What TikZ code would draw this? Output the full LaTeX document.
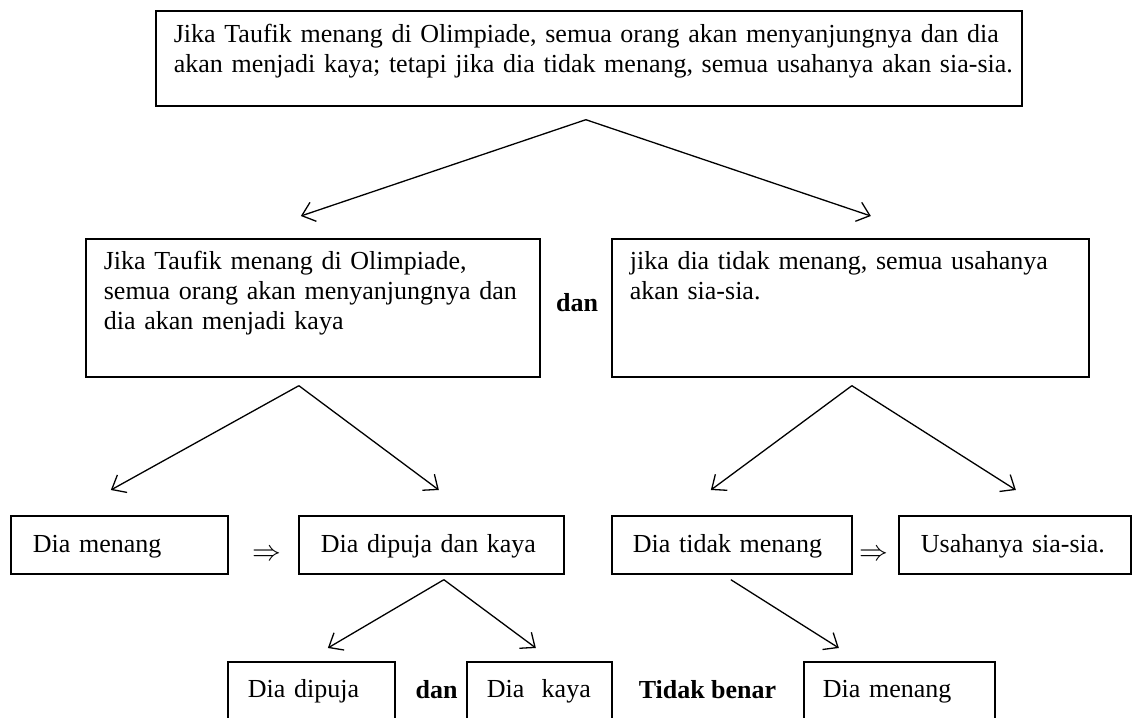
\documentclass[tikz,border=0pt]{standalone}
\usepackage{fontspec}
\setmainfont{Liberation Serif}
\usetikzlibrary{arrows.meta}

\tikzset{
  kotak/.style={draw, line width=0.85pt, anchor=north west, align=left,
    inner ysep=0pt, font=\fontsize{13}{15}\selectfont},
  panah/.style={line width=0.65pt, -{Straight Barb[length=6pt,width=10pt]}},
  tebal/.style={anchor=base, font=\fontsize{13}{15}\selectfont\bfseries},
  tanda/.style={anchor=base, font=\fontsize{14.4}{16}\selectfont},
}

\begin{document}
\begin{tikzpicture}[x=0.5pt, y=-0.5pt]
  \useasboundingbox (0,0) rectangle (1133,717);
  \clip (0,0) rectangle (1133,717);

  % pernyataan awal
  \node[kotak, text width=415pt, inner xsep=9pt, text height=16pt, text depth=31.5pt] (atas) at (155,10)
    {\mbox{Jika Taufik menang di Olimpiade, semua orang akan menyanjungnya dan dia}\\
     \mbox{akan menjadi kaya; tetapi jika dia tidak menang, semua usahanya akan sia-sia.}};

  % dua bagian
  \node[kotak, text width=209pt, inner xsep=9pt, text height=15.5pt, text depth=53.5pt] (kiri) at (85,238)
    {\mbox{Jika Taufik menang di Olimpiade,}\\ \mbox{semua orang akan menyanjungnya dan}\\ \mbox{dia akan menjadi kaya}};
  \node[tebal] (dan1) at (577,311) {dan};
  \node[kotak, text width=220.5pt, inner xsep=9pt, text height=15.5pt, text depth=53.5pt] (kanan) at (611,238)
    {\mbox{jika dia tidak menang, semua usahanya}\\ \mbox{akan sia-sia.}};

  % implikasi
  \node[kotak, text width=86.5pt, inner xsep=11pt, text height=18.5pt, text depth=10.5pt] (menang) at (10,515) {Dia menang};
  \node[tanda] (imp1) at (267,560) {$\Rightarrow$};
  \node[kotak, text width=110.5pt, inner xsep=11pt, text height=18.5pt, text depth=10.5pt] (puja) at (298,515) {Dia dipuja dan kaya};
  \node[kotak, text width=99pt, inner xsep=10.5pt, text height=18.5pt, text depth=10.5pt] (tidak) at (611,515) {Dia tidak menang};
  \node[tanda] (imp2) at (874,560) {$\Rightarrow$};
  \node[kotak, text width=94pt, inner xsep=11pt, text height=18.5pt, text depth=10.5pt] (usaha) at (898,515) {Usahanya sia-sia.};

  % baris bawah
  \node[kotak, text width=63.5pt, inner xsep=10pt, text height=18pt, text depth=22pt] (dipuja) at (227,661) {Dia dipuja};
  \node[tebal] (dan2) at (436.5,698) {dan};
  \node[kotak, text width=52.5pt, inner xsep=10pt, text height=18pt, text depth=22pt] (kaya) at (466,661) {Dia~~kaya};
  \node[tebal] (bukan) at (707.5,698) {Tidak benar};
  \node[kotak, text width=76.5pt, inner xsep=9.5pt, text height=18pt, text depth=22pt] (menangB) at (803,661) {Dia menang};

  % panah
  \draw[panah] ([shift={(-3,13)}]atas.south) -- ([shift={(-12,-22)}]kiri.north);
  \draw[panah] ([shift={(-3,13)}]atas.south) -- ([shift={(20.5,-22)}]kanan.north);
  \draw[panah] ([shift={(-14,8)}]kiri.south) -- ([shift={(-8.5,-25)}]menang.north);
  \draw[panah] ([shift={(-14,8)}]kiri.south) -- ([shift={(7.5,-25)}]puja.north);
  \draw[panah] ([shift={(1.5,8)}]kanan.south) -- ([shift={(-21,-25)}]tidak.north);
  \draw[panah] ([shift={(1.5,8)}]kanan.south) -- ([shift={(1,-25)}]usaha.north);
  \draw[panah] ([shift={(12.5,5)}]puja.south) -- ([shift={(16.5,-13)}]dipuja.north);
  \draw[panah] ([shift={(12.5,5)}]puja.south) -- ([shift={(-3.5,-13)}]kaya.north);
  \draw[panah] ([shift={(-1,5)}]tidak.south) -- ([shift={(-60.5,-13)}]menangB.north);
\end{tikzpicture}
\end{document}
